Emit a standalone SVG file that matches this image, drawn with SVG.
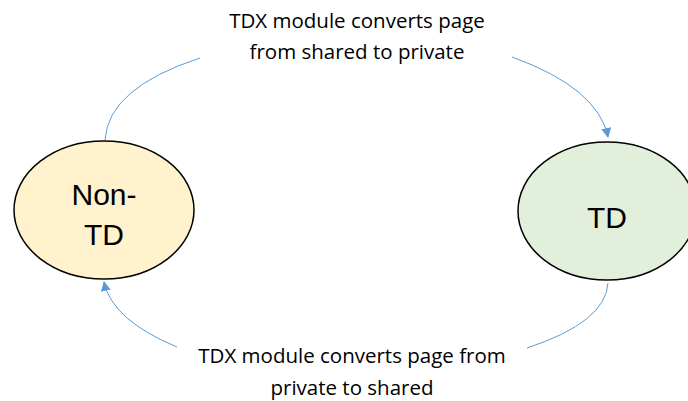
<svg xmlns="http://www.w3.org/2000/svg" width="688" height="401" viewBox="0 0 688 401">
<style>
.lbl{font-family:"Open Sans","Liberation Sans",sans-serif;font-size:20.5px;fill:#000;text-anchor:middle}
.node{font-family:"Liberation Sans","Arial",sans-serif;font-size:30px;fill:#000;text-anchor:middle}
.conn{fill:none;stroke:#5B9BD5;stroke-width:1}
.ell{stroke:#000;stroke-width:1.5}
</style>
<defs>
<marker id="arr" viewBox="0 0 10 10" refX="9" refY="5" markerWidth="10" markerHeight="10" markerUnits="userSpaceOnUse" orient="auto">
<path d="M0,0 L10,5 L0,10 Z" fill="#5B9BD5"/>
</marker>
</defs>
<rect width="688" height="401" fill="#fff"/>
<g id="connectors">
<path class="conn" d="M105,140 Q108,88 200,58"/>
<path class="conn" d="M512,57 Q598,88 608,137" marker-end="url(#arr)"/>
<path class="conn" d="M608,283 Q606,322 527,348"/>
<path class="conn" d="M177,347 Q112,320 104,282" marker-end="url(#arr)"/>
</g>
<g id="node-nontd">
<ellipse class="ell" cx="104" cy="210" rx="90" ry="69" fill="#FFF2CC"/>
<text class="node" x="104" y="205">Non-</text>
<text class="node" x="104" y="245">TD</text>
</g>
<g id="node-td">
<ellipse class="ell" cx="607" cy="211" rx="89" ry="69" fill="#E2EFDA"/>
<text class="node" x="607" y="228">TD</text>
</g>
<g id="label-top">
<text class="lbl" x="357" y="28">TDX module converts page</text>
<text class="lbl" x="357" y="59">from shared to private</text>
</g>
<g id="label-bottom">
<text class="lbl" x="352" y="363">TDX module converts page from</text>
<text class="lbl" x="352" y="395">private to shared</text>
</g>
</svg>
